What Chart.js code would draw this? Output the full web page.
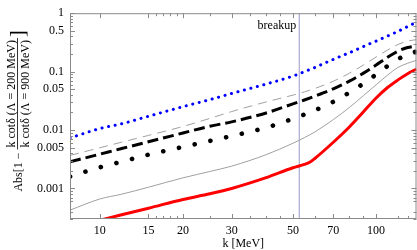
<!DOCTYPE html>
<html><head><meta charset="utf-8">
<script src="https://cdn.jsdelivr.net/npm/chart.js@4"></script>
<style>html,body{margin:0;padding:0;background:#fff}#wrap{width:417px;height:250px;position:relative}</style>
</head><body><div id="wrap"><canvas id="c"></canvas></div>
<script>
// k values [MeV]
const kValues = [7.8, 10, 12, 15, 20, 25, 30, 40, 50, 55, 60, 70, 80, 90, 100, 110, 120, 130, 140];
const blueDotted = [0.0073, 0.0106, 0.0128, 0.0172, 0.0251, 0.0331, 0.0422, 0.0612, 0.0839, 0.0994, 0.1177, 0.162, 0.2105, 0.269, 0.334, 0.406, 0.49, 0.591, 0.705];
const grayDashed = [0.00368, 0.00497, 0.0062, 0.00809, 0.0115, 0.0158, 0.0207, 0.0303, 0.0396, 0.045, 0.0514, 0.0686, 0.0938, 0.13, 0.178, 0.234, 0.291, 0.333, 0.353];
const blackDashed = [0.00286, 0.00386, 0.00482, 0.00629, 0.00891, 0.0116, 0.0138, 0.0196, 0.028, 0.0327, 0.038, 0.0507, 0.0686, 0.0942, 0.13, 0.176, 0.224, 0.258, 0.274];
const blackDots = [0.0016, 0.0023, 0.00287, 0.00379, 0.00514, 0.0065, 0.00789, 0.011, 0.0156, 0.0184, 0.0217, 0.0305, 0.0438, 0.0626, 0.0895, 0.1245, 0.1637, 0.195, 0.223];
const graySolid = [0.000426, 0.00066, 0.000798, 0.00105, 0.00152, 0.00195, 0.00241, 0.00379, 0.00594, 0.0074, 0.00927, 0.0151, 0.0243, 0.0389, 0.0594, 0.0871, 0.118, 0.139, 0.156];
const redK = [10, 12, 15, 20, 25, 30, 40, 50, 55, 57.5, 60, 70, 80, 90, 100, 110, 120, 130, 140];
const redSolid = [0.000285, 0.000355, 0.000459, 0.000649, 0.000811, 0.001, 0.00153, 0.00226, 0.00258, 0.00281, 0.00326, 0.00618, 0.01127, 0.0205, 0.0354, 0.0535, 0.0722, 0.0922, 0.111];
const breakupK = 52.7;
const xTicks = [10, 15, 20, 30, 50, 70, 100];
const xMinorTicks = [16, 17, 18, 19, 25, 35, 40, 45, 60, 80, 90, 120, 130];
const yTicks = [1, 0.5, 0.1, 0.05, 0.01, 0.005, 0.001];

const FONT = "'Liberation Serif','Times New Roman',serif";
const pts = (ks, vs) => ks.map((k, i) => ({x: k, y: vs[i]}));
const frameColor = '#8a8a8a';

const decor = {
  id: 'decor',
  beforeDatasetsDraw(chart) {
    const {ctx, chartArea: a, scales: {x}} = chart;
    const bx = x.getPixelForValue(breakupK);
    ctx.save();
    ctx.strokeStyle = '#9a9ac8';
    ctx.lineWidth = 1;
    ctx.beginPath(); ctx.moveTo(bx, a.top); ctx.lineTo(bx, a.bottom); ctx.stroke();
    ctx.fillStyle = '#000';
    ctx.font = '12px ' + FONT;
    ctx.textAlign = 'right'; ctx.textBaseline = 'middle';
    ctx.fillText('breakup', bx - 3, 26);
    ctx.restore();
  },
  afterDraw(chart) {
    const {ctx, chartArea: a, scales: {x, y}} = chart;
    ctx.save();
    ctx.strokeStyle = frameColor; ctx.lineWidth = 1;
    ctx.strokeRect(a.left + 0.5, a.top + 0.5, a.right - a.left - 1, a.bottom - a.top - 1);
    const tick = (x1, y1, x2, y2) => { ctx.beginPath(); ctx.moveTo(x1, y1); ctx.lineTo(x2, y2); ctx.stroke(); };
    const xt = (v, len) => { const p = Math.round(x.getPixelForValue(v)) + 0.5; tick(p, a.bottom, p, a.bottom - len); tick(p, a.top, p, a.top + len); };
    xTicks.forEach(v => xt(v, 5));
    xMinorTicks.forEach(v => xt(v, 3));
    const yt = (v, len) => { const p = Math.round(y.getPixelForValue(v)) + 0.5; tick(a.left, p, a.left + len, p); tick(a.right, p, a.right - len, p); };
    yTicks.forEach(v => yt(v, 5));
    [0.001, 0.01, 0.1, 0.0001].forEach(d => [2,3,4,6,7,8,9].forEach(m => { const v = d*m; if (v > y.min && v < y.max) yt(v, 3); }));
    ctx.restore();

    // y-axis label as a fraction, rotated
    ctx.save();
    ctx.translate(17.5, 111);
    ctx.rotate(-Math.PI / 2);
    ctx.fillStyle = '#000'; ctx.strokeStyle = '#000';
    ctx.font = '12px ' + FONT;
    const pre = 'Abs[1 \u2212 ';
    const num = 'k cot\u03b4 (\u039b = 200 MeV)';
    const den = 'k cot\u03b4 (\u039b = 900 MeV)';
    const wPre = ctx.measureText(pre).width;
    const wf = Math.max(ctx.measureText(num).width, ctx.measureText(den).width) + 4;
    ctx.font = '20px ' + FONT;
    const wB = ctx.measureText(']').width;
    const total = wPre + wf + wB + 1;
    let u = -total / 2;
    ctx.font = '12px ' + FONT;
    ctx.textBaseline = 'middle'; ctx.textAlign = 'left';
    ctx.fillText(pre, u, 1);
    u += wPre;
    ctx.textAlign = 'center';
    ctx.textBaseline = 'alphabetic';
    ctx.fillText(num, u + wf / 2, -3);
    ctx.fillText(den, u + wf / 2, 11);
    ctx.lineWidth = 0.8;
    ctx.beginPath(); ctx.moveTo(u, 0); ctx.lineTo(u + wf, 0); ctx.stroke();
    u += wf + 1;
    ctx.font = '20px ' + FONT;
    ctx.textAlign = 'left'; ctx.textBaseline = 'middle';
    ctx.fillText(']', u, 1);
    ctx.restore();
  }
};

new Chart(document.getElementById('c'), {
  type: 'line',
  data: {
    datasets: [
      {label: 'blue', data: pts(kValues, blueDotted), borderColor: '#0000ff', borderWidth: 3, borderDash: [0.1, 6.6], borderCapStyle: 'round', pointRadius: 0},
      {label: 'black dashed', data: pts(kValues, blackDashed), borderColor: '#000', borderWidth: 3, borderDash: [11, 5], pointRadius: 0},
      {label: 'black dots', data: pts(kValues, blackDots), borderColor: '#000', borderWidth: 4.6, borderDash: [0.1, 16], borderCapStyle: 'round', pointRadius: 0},
      {label: 'red', data: pts(redK, redSolid), borderColor: '#ff0000', borderWidth: 3, pointRadius: 0},
      {label: 'gray dashed', data: pts(kValues, grayDashed), borderColor: '#a0a0a0', borderWidth: 1, borderDash: [9, 6], pointRadius: 0},
      {label: 'gray solid', data: pts(kValues, graySolid), borderColor: '#a0a0a0', borderWidth: 1, pointRadius: 0}
    ]
  },
  options: {
    responsive: true, maintainAspectRatio: false, animation: false, devicePixelRatio: 1,
    layout: {padding: {top: 5, right: 0.5, left: 0, bottom: 0}},
    plugins: {legend: {display: false}, tooltip: {enabled: false}},
    elements: {line: {cubicInterpolationMode: 'monotone'}},
    scales: {
      x: {
        type: 'logarithmic', min: 7.8, max: 140,
        grid: {display: false, drawTicks: false}, border: {display: false},
        afterBuildTicks: s => { s.ticks = xTicks.map(v => ({value: v})); },
        afterFit: s => { s.height = 31; },
        ticks: {autoSkip: false, maxRotation: 0, padding: 5, color: '#000', font: {family: FONT, size: 12}, callback: v => String(v)},
        title: {display: true, text: 'k [MeV]', color: '#000', font: {family: FONT, size: 12, lineHeight: 1}, padding: 0}
      },
      y: {
        type: 'logarithmic', min: 0.00032, max: 1,
        grid: {display: false, drawTicks: false}, border: {display: false},
        afterBuildTicks: s => { s.ticks = yTicks.map(v => ({value: v})); },
        afterFit: s => { s.width = 70; },
        ticks: {autoSkip: false, padding: 6, color: '#000', font: {family: FONT, size: 12}, callback: v => String(v)}
      }
    }
  },
  plugins: [decor]
});
</script>
</body></html>
